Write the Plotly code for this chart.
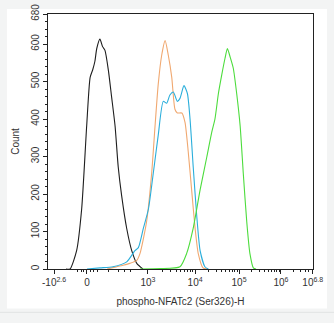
import numpy as np
import plotly.graph_objects as go

# Histogram overlays on a display-channel scale (0-1000 across the biexponential axis)
black_x = [68, 83, 108, 127, 146, 159, 169, 177, 184, 196, 206, 215, 228, 240, 253, 265, 278, 297, 316, 335, 358]
black_y = [0, 0, 49, 160, 382, 511, 532, 554, 588, 613, 593, 583, 529, 459, 382, 272, 195, 108, 49, 15, 0]

orange_x = [223, 253, 283, 309, 335, 347, 372, 391, 404, 416, 429, 442, 454, 467, 479, 488, 505, 517, 529, 542, 555, 567, 585, 604]
orange_y = [0, 5, 10, 15, 23, 41, 126, 254, 382, 493, 570, 609, 570, 511, 426, 416, 416, 391, 314, 211, 109, 41, 3, 0]

blue_x = [147, 196, 245, 297, 328, 341, 360, 379, 397, 416, 435, 448, 460, 473, 488, 498, 513, 526, 536, 548, 561, 574, 592, 605]
blue_y = [0, 3, 6, 19, 49, 57, 109, 160, 254, 357, 447, 442, 464, 472, 447, 455, 489, 468, 400, 272, 144, 49, 6, 0]

green_x = [347, 423, 498, 523, 548, 574, 599, 618, 630, 643, 656, 668, 677, 687, 699, 712, 725, 737, 750, 762, 775, 785]
green_y = [0, 1, 6, 41, 109, 211, 298, 365, 400, 468, 519, 562, 588, 566, 536, 468, 382, 254, 126, 41, 3, 0]

# Axis ticks (channel positions of the decade labels)
x_tickvals = [23, 147, 377, 555, 721, 879, 999]
x_ticktext = ["-10<sup>2.6</sup>", "0", "10<sup>3</sup>", "10<sup>4</sup>",
              "10<sup>5</sup>", "10<sup>6</sup>", "10<sup>6.8</sup>"]
y_tickvals = [0, 100, 200, 300, 400, 500, 600, 680]

# log-spaced minor ticks inside each decade, plus a few around zero
decades = [(377, 555), (555, 721), (721, 879), (879, 1000 + (1000 - 879) / 0.8 * 0.2)]
minor_x = []
for lo, hi in decades:
    for k in range(2, 10):
        v = lo + (hi - lo) * np.log10(k)
        if v < 1000:
            minor_x.append(float(v))
minor_x += [110, 125, 135, 160, 170, 185, 230, 265, 290, 310]

series = [
    (black_x, black_y, "#1e1e1e"),
    (orange_x, orange_y, "#f0a870"),
    (blue_x, blue_y, "#2aaedb"),
    (green_x, green_y, "#4cdc3c"),
]

fig = go.Figure()
for xs, ys, col in series:
    fig.add_trace(go.Scatter(
        x=xs, y=ys, mode="lines",
        line=dict(color=col, width=1.1, shape="spline", smoothing=0.6),
        hoverinfo="skip", showlegend=False,
    ))

axis_font = dict(family="Liberation Sans, Arial, sans-serif", size=10, color="#333333")

fig.update_layout(
    width=334, height=323,
    margin=dict(l=48, r=21, t=4, b=54),
    paper_bgcolor="#f3f4f4",
    plot_bgcolor="white",
    font=axis_font,
    shapes=[
        dict(type="rect", xref="paper", yref="paper",
             x0=-0.155, x1=1.053, y0=-0.155, y1=1.02,
             fillcolor="white", line=dict(width=0), layer="below"),
        dict(type="line", xref="paper", yref="paper",
             x0=-0.2, x1=1.1, y0=-0.170, y1=-0.170,
             line=dict(color="#e2e3e3", width=1), layer="below"),
    ],
)

fig.update_xaxes(
    range=[0, 1000], showgrid=False, zeroline=False,
    showline=True, linecolor="#222222", linewidth=1, mirror=True,
    tickmode="array", tickvals=x_tickvals, ticktext=x_ticktext,
    ticks="outside", ticklen=4, tickcolor="#222222",
    tickfont=axis_font, ticklabeloverflow="allow",
    minor=dict(tickvals=minor_x, ticks="outside", ticklen=2, tickcolor="#222222"),
    title=dict(text="phospho-NFATc2 (Ser326)-H", font=axis_font, standoff=10),
)

fig.update_yaxes(
    range=[0, 680], showgrid=False, zeroline=False,
    showline=True, linecolor="#222222", linewidth=1, mirror=True,
    tickmode="array", tickvals=y_tickvals,
    ticks="outside", ticklen=4, tickcolor="#222222",
    tickangle=-90, tickfont=axis_font, ticklabeloverflow="allow",
    minor=dict(dtick=20, ticks="outside", ticklen=2, tickcolor="#222222"),
    title=dict(text="Count", font=axis_font, standoff=8),
)

fig.write_html("out.html")
